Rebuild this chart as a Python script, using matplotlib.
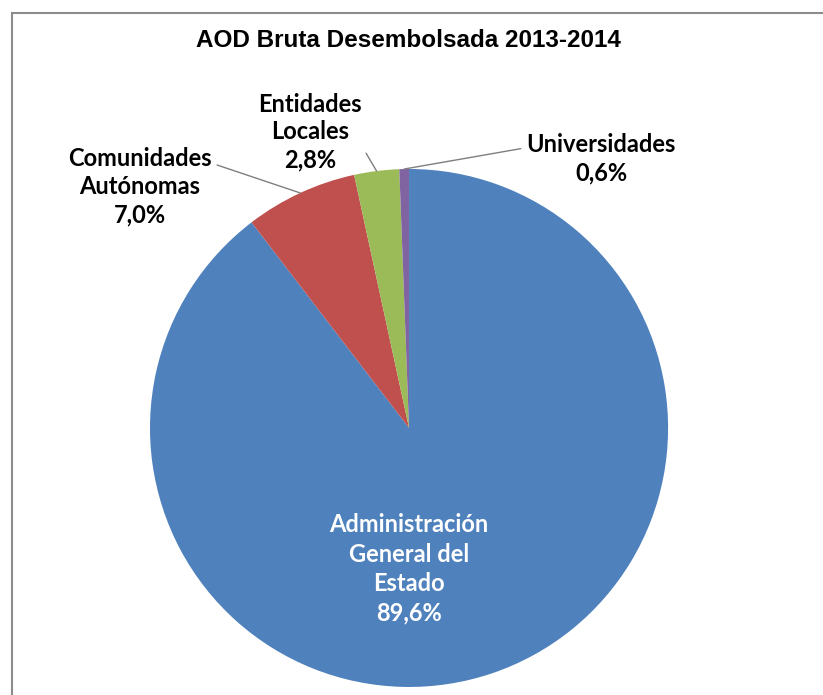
import matplotlib.pyplot as plt
from matplotlib.patches import Rectangle
import numpy as np

# data
categories = ['Administración\nGeneral del\nEstado', 'Comunidades\nAutónomas', 'Entidades\nLocales', 'Universidades']
shares = [89.6, 7.0, 2.8, 0.6]
colors = ['#4F81BD', '#C0504D', '#9BBB59', '#8064A2']
title = 'AOD Bruta Desembolsada 2013-2014'

label_font = ['Lato', 'DejaVu Sans']

fig = plt.figure(figsize=(8.23, 6.95), dpi=100)
ax = fig.add_axes([0, 0, 1, 1])

wedges, _ = ax.pie(shares, colors=colors, startangle=90, counterclock=False,
                   radius=1.0, center=(0, 0),
                   wedgeprops=dict(linewidth=0))

ax.set_xlim(-1.579, 1.598)
ax.set_ylim(-1.031, 1.6525)
ax.set_aspect('auto')
ax.axis('off')

def fmt(v):
    return f'{v:.1f}%'.replace('.', ',')

# big inner label
ax.text(0, -0.545, categories[0] + '\n' + fmt(shares[0]), ha='center', va='center',
        color='white', fontsize=17, fontweight='bold', family=label_font,
        linespacing=1.34)

# outside labels with leader lines
label_pos = {1: (-1.039, 0.931), 2: (-0.382, 1.143), 3: (0.741, 1.039)}
relpos = {1: (1.0, 0.8), 2: (0.92, 0.5), 3: (0.0, 0.72)}
for i in (1, 2, 3):
    w = wedges[i]
    mid = np.deg2rad((w.theta1 + w.theta2) / 2)
    xy = (np.cos(mid), np.sin(mid))
    ax.annotate(categories[i] + '\n' + fmt(shares[i]), xy=xy, xytext=label_pos[i],
                ha='center', va='center', fontsize=17, fontweight='bold',
                family=label_font, linespacing=1.26, color='black',
                arrowprops=dict(arrowstyle='-', color='#7f7f7f', lw=1.0,
                                shrinkA=2, shrinkB=0, relpos=relpos[i]))

fig.text(0.496, 0.942, title, ha='center', va='center', fontsize=17.5,
         fontweight='bold', family='Liberation Sans')

# chart frame (cropped at right and bottom)
fig.add_artist(Rectangle((12 / 823, -0.05), 1.0, 0.05 + (695 - 13) / 695,
                         transform=fig.transFigure, fill=False,
                         edgecolor='#8c8c8c', linewidth=1.5))

fig.savefig('out.png', dpi=100)
